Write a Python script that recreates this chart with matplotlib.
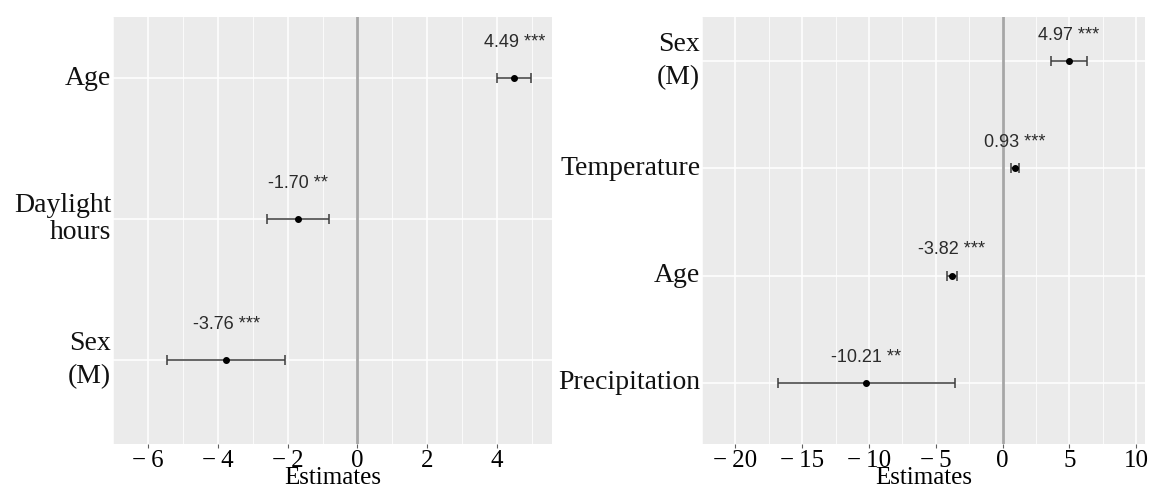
import numpy as np
import matplotlib
matplotlib.use("Agg")
import matplotlib.pyplot as plt

# left model
left_terms = ["Age", "Daylight\nhours", "Sex\n(M)"]
left_est = [4.49, -1.70, -3.76]
left_lo = [4.01, -2.58, -5.46]
left_hi = [4.97, -0.82, -2.06]
left_sig = ["***", "**", "***"]
left_ticks = [-6, -4, -2, 0, 2, 4]

# right model
right_terms = ["Sex\n(M)", "Temperature", "Age", "Precipitation"]
right_est = [4.97, 0.93, -3.82, -10.21]
right_lo = [3.64, 0.61, -4.20, -16.80]
right_hi = [6.30, 1.25, -3.44, -3.55]
right_sig = ["***", "***", "***", "**"]
right_ticks = [-20, -15, -10, -5, 0, 5, 10]

serif = "Liberation Serif"
sans = "Liberation Sans"
bg = "#EBEBEB"

fig = plt.figure(figsize=(11.49, 4.86), dpi=100)
ax1 = fig.add_axes([0.0983, 0.0864, 0.3821, 0.8786])
ax2 = fig.add_axes([0.611, 0.0864, 0.3855, 0.8786])


def tick_text(v):
    return "\u2212\u2009" + str(abs(v)) if v < 0 else str(v)


def forest(ax, terms, est, lo, hi, sig, ticks, xlim, ylim, spacings, lab_off):
    n = len(terms)
    y = np.arange(n, 0, -1)
    ax.set_facecolor(bg)
    for s in ax.spines.values():
        s.set_visible(False)
    ax.set_xlim(*xlim)
    ax.set_ylim(*ylim)
    ax.set_xticks(ticks)
    step = ticks[1] - ticks[0]
    minor = np.arange(ticks[0] - step / 2, xlim[1], step)
    ax.set_xticks(minor, minor=True)
    ax.grid(True, which="major", color="white", lw=1.1)
    ax.grid(True, which="minor", axis="x", color="white", lw=0.55)
    ax.set_axisbelow(True)
    ax.axvline(0, color="#A6A6A6", lw=2, zorder=1)

    est = np.array(est)
    err = [est - np.array(lo), np.array(hi) - est]
    ax.errorbar(est, y, xerr=err, fmt="none", ecolor="#3C3C3C",
                elinewidth=1.1, capsize=3.6, capthick=1.1, zorder=3)
    ax.plot(est, y, "o", color="black", ms=4, zorder=4)
    for xv, yv, s in zip(est, y, sig):
        ax.text(xv, yv + lab_off, f"{xv:.2f} {s}", ha="center", va="center",
                fontsize=13, family=sans, color="#2B2B2B", zorder=5)

    ax.set_xticklabels([tick_text(t) for t in ticks], family=serif,
                       fontsize=18)
    ax.tick_params(axis="x", which="major", length=3, width=0.8,
                   color="#606060", pad=1)
    ax.tick_params(axis="x", which="minor", length=0)
    ax.set_yticks(y)
    ax.set_yticklabels([])
    ax.tick_params(axis="y", length=0)
    for yv, t, ls in zip(y, terms, spacings):
        ax.text(-0.004, yv, t, transform=ax.get_yaxis_transform(),
                ha="right", va="center", ma="right", family=serif,
                fontsize=20, linespacing=ls, color="#111111")
    ax.set_xlabel("Estimates", family=serif, fontsize=18, labelpad=-3)


forest(ax1, left_terms, left_est, left_lo, left_hi, left_sig, left_ticks,
       (-6.42, 5.57), (0.404, 3.433), [1.0, 1.08, 1.4], 0.25)
forest(ax2, right_terms, right_est, right_lo, right_hi, right_sig,
       right_ticks, (-21.2, 10.65), (0.43, 4.41), [1.4, 1.0, 1.0, 1.0], 0.24)

fig.savefig("out.png", dpi=100)
